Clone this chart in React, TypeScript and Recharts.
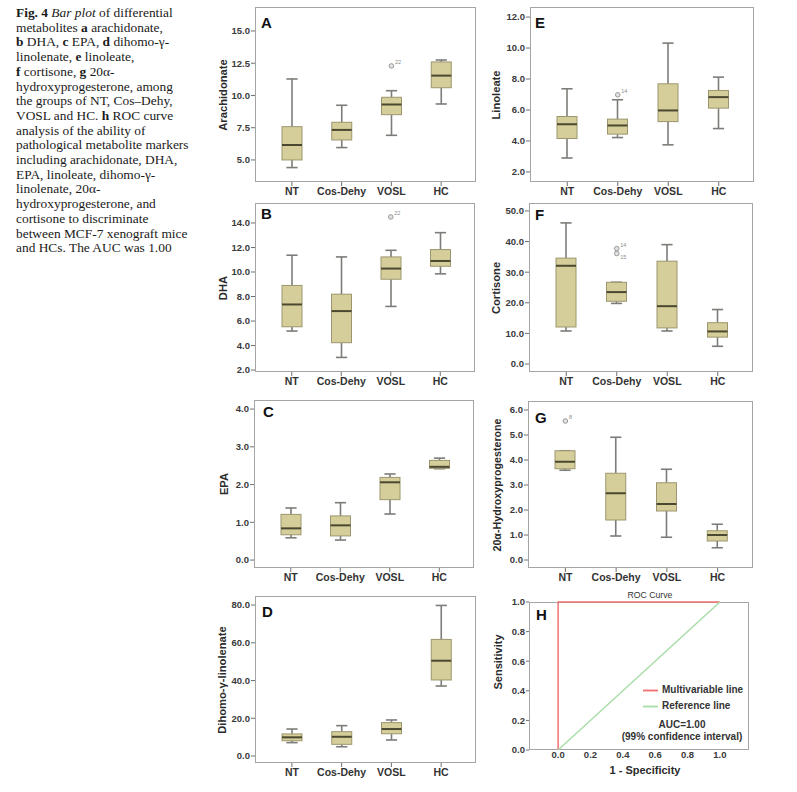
import React from 'react';
import { ComposedChart, Bar, Line, XAxis, YAxis, Legend } from 'recharts';

const groups = ['NT', 'Cos-Dehy', 'VOSL', 'HC'];

// min, q1, median, q3, max  (NT, Cos-Dehy, VOSL, HC)
const arachidonate = [
  [4.41, 5.0, 6.16, 7.58, 11.28],
  [5.96, 6.55, 7.33, 7.92, 9.24],
  [6.91, 8.51, 9.3, 9.86, 10.37],
  [9.34, 10.6, 11.54, 12.6, 12.75],
];
const dha = [
  [5.18, 5.53, 7.35, 8.9, 11.37],
  [3.03, 4.23, 6.81, 8.19, 11.23],
  [7.19, 9.41, 10.28, 11.23, 11.77],
  [9.85, 10.47, 10.9, 11.83, 13.21],
];
const epa = [
  [0.59, 0.67, 0.84, 1.21, 1.38],
  [0.53, 0.64, 0.92, 1.17, 1.52],
  [1.22, 1.6, 2.06, 2.19, 2.28],
  [2.42, 2.43, 2.47, 2.64, 2.7],
];
const dihomo = [
  [7.1, 8.1, 9.9, 11.7, 14.3],
  [4.9, 6.2, 10.2, 12.9, 16.1],
  [8.5, 11.8, 14.3, 17.7, 19.1],
  [37.1, 40.3, 50.5, 61.8, 79.8],
];
const linoleate = [
  [2.9, 4.16, 5.08, 5.58, 7.37],
  [4.22, 4.44, 5.0, 5.41, 6.66],
  [3.75, 5.25, 5.97, 7.69, 10.32],
  [4.8, 6.12, 6.83, 7.26, 8.12],
];
const cortisone = [
  [10.8, 12.1, 32.1, 34.6, 46.1],
  [19.8, 20.5, 23.5, 26.7, 26.7],
  [10.8, 11.8, 18.9, 33.6, 39.0],
  [5.8, 8.8, 10.65, 13.5, 17.8],
];
const hydroxyprog = [
  [3.59, 3.65, 3.93, 4.37, 4.37],
  [0.96, 1.6, 2.67, 3.47, 4.91],
  [0.91, 1.96, 2.24, 3.09, 3.63],
  [0.49, 0.76, 1.0, 1.17, 1.43],
];

type Outlier = { group: string; value: number; label: string };
const arachidonateOut: Outlier[] = [{ group: 'VOSL', value: 12.29, label: '22' }];
const dhaOut: Outlier[] = [{ group: 'VOSL', value: 14.49, label: '22' }];
const linoleateOut: Outlier[] = [{ group: 'Cos-Dehy', value: 6.98, label: '14' }];
const cortisoneOut: Outlier[] = [
  { group: 'Cos-Dehy', value: 37.7, label: '14' },
  { group: 'Cos-Dehy', value: 36.1, label: '15' },
];
const hydroxyprogOut: Outlier[] = [{ group: 'NT', value: 5.56, label: '8' }];

const arachidonateTicks = [5, 7.5, 10, 12.5, 15];
const dhaTicks = [2, 4, 6, 8, 10, 12, 14];
const epaTicks = [0, 1, 2, 3, 4];
const dihomoTicks = [0, 20, 40, 60, 80];
const linoleateTicks = [2, 4, 6, 8, 10, 12];
const cortisoneTicks = [0, 10, 20, 30, 40, 50];
const hydroxyprogTicks = [0, 1, 2, 3, 4, 5, 6];

const rocTicks = [0, 0.2, 0.4, 0.6, 0.8, 1.0];
const multivariableLine = [
  { x: 0, y: 0 },
  { x: 0, y: 1 },
  { x: 1, y: 1 },
];
const referenceLine = [
  { x: 0, y: 0 },
  { x: 1, y: 1 },
];

const SANS = '"Liberation Sans", Arial, Helvetica, sans-serif';
const YW = 40;
const MT = 8;
const MR = 2;
const XH = 24;

function buildRows(stats: number[][], outliers: Outlier[]) {
  return groups.map((g, i) => {
    const [min, q1, median, q3, max] = stats[i];
    const outs = outliers.filter((o) => o.group === g);
    return {
      group: g,
      min,
      q1,
      median,
      q3,
      max,
      out1: outs[0] ? outs[0].value : null,
      lab1: outs[0] ? outs[0].label : '',
      out2: outs[1] ? outs[1].value : null,
      lab2: outs[1] ? outs[1].label : '',
    };
  });
}

const BoxShape = (props: any) => {
  const { x, y, width, height, payload } = props;
  if (!payload) return null;
  const top = Math.min(y, y + height);
  const bot = Math.max(y, y + height);
  const { min, q1, median, q3, max } = payload;
  const k = (bot - top) / (max - min);
  const py = (v: number) => bot - (v - min) * k;
  const cx = x + width / 2;
  const cap = width * 0.28;
  const wh = { stroke: '#7c7c78', strokeWidth: 1.6 };
  return (
    <g>
      <line x1={cx} x2={cx} y1={py(max)} y2={py(q3)} {...wh} />
      <line x1={cx} x2={cx} y1={py(q1)} y2={py(min)} {...wh} />
      <line x1={cx - cap} x2={cx + cap} y1={py(max)} y2={py(max)} {...wh} />
      <line x1={cx - cap} x2={cx + cap} y1={py(min)} y2={py(min)} {...wh} />
      <rect x={x} y={py(q3)} width={width} height={py(q1) - py(q3)} fill="#d6ce9a" stroke="#9c966e" strokeWidth={1} />
      <line x1={x} x2={x + width} y1={py(median)} y2={py(median)} stroke="#4a4830" strokeWidth={2} />
    </g>
  );
};

const outlierDot = (labelKey: string, dy: number) => (p: any) => {
  const { cx, cy, payload, index, value } = p;
  if (value == null || cy == null || Number.isNaN(cy)) return <g key={`${labelKey}-${index}`} />;
  return (
    <g key={`${labelKey}-${index}`}>
      <circle cx={cx} cy={cy} r={2.3} fill="#e2e2e2" stroke="#9a9a9a" strokeWidth={1} />
      <text x={cx + 3.5} y={cy + dy} fontSize={5.5} fill="#8a8a8a" fontFamily={SANS}>
        {payload[labelKey]}
      </text>
    </g>
  );
};

type PanelProps = {
  letter: string;
  title: string;
  stats: number[][];
  outliers: Outlier[];
  domain: [number, number];
  ticks: number[];
  L: number;
  T: number;
  R: number;
  B: number;
  labelX: number;
  labelSize?: number;
  letterX: number;
  letterY: number;
};

function YTitle({ text, cx, cy, size }: { text: string; cx: number; cy: number; size: number }) {
  return (
    <div
      style={{
        position: 'absolute',
        left: cx,
        top: cy,
        transform: 'translate(-50%, -50%) rotate(-90deg)',
        whiteSpace: 'nowrap',
        fontFamily: SANS,
        fontWeight: 700,
        fontSize: size,
        color: '#2b2b2b',
        lineHeight: 1,
      }}
    >
      {text}
    </div>
  );
}

function Letter({ text, x, y }: { text: string; x: number; y: number }) {
  return (
    <div
      style={{
        position: 'absolute',
        left: x,
        top: y - 2,
        fontFamily: SANS,
        fontWeight: 700,
        fontSize: 15,
        lineHeight: 1,
        color: '#111',
      }}
    >
      {text}
    </div>
  );
}

function Frame({ L, T, R, B }: { L: number; T: number; R: number; B: number }) {
  return (
    <div
      style={{
        position: 'absolute',
        left: L,
        top: T,
        width: R - L,
        height: B - T,
        border: '1px solid #a5a5a5',
        boxSizing: 'border-box',
      }}
    />
  );
}

function BoxPanel(p: PanelProps) {
  const rows = buildRows(p.stats, p.outliers);
  const w = p.R - p.L;
  const h = p.B - p.T;
  const has1 = rows.some((r) => r.out1 != null);
  const has2 = rows.some((r) => r.out2 != null);
  return (
    <>
      <Frame L={p.L} T={p.T} R={p.R} B={p.B} />
      <div style={{ position: 'absolute', left: p.L - YW, top: p.T - MT, fontFamily: SANS }}>
        <ComposedChart width={w + YW + MR} height={h + MT + XH} data={rows} margin={{ top: MT, right: MR, bottom: 0, left: 0 }}>
          <XAxis
            dataKey="group"
            allowDuplicatedCategory={false}
            interval={0}
            padding={{ left: 12, right: 10 }}
            axisLine={false}
            tickLine={{ stroke: '#707070' }}
            tickSize={4}
            tickMargin={2}
            height={XH}
            tick={{ fontSize: 10.5, fontWeight: 700, fill: '#333' }}
          />
          <YAxis
            type="number"
            domain={p.domain}
            ticks={p.ticks}
            allowDataOverflow
            interval={0}
            width={YW}
            axisLine={false}
            tickLine={{ stroke: '#707070' }}
            tickSize={4}
            tickMargin={1}
            tick={{ fontSize: 9.5, fontWeight: 700, fill: '#3a3a3a' }}
            tickFormatter={(v: number) => v.toFixed(1)}
          />
          <Bar dataKey={(d: any) => [d.min, d.max]} barSize={20} shape={<BoxShape />} isAnimationActive={false} />
          {has1 && (
            <Line dataKey="out1" stroke="none" dot={outlierDot('lab1', -2)} activeDot={false} isAnimationActive={false} />
          )}
          {has2 && (
            <Line dataKey="out2" stroke="none" dot={outlierDot('lab2', 5)} activeDot={false} isAnimationActive={false} />
          )}
        </ComposedChart>
      </div>
      <YTitle text={p.title} cx={p.labelX} cy={(p.T + p.B) / 2} size={p.labelSize ?? 11.2} />
      <Letter text={p.letter} x={p.letterX} y={p.letterY} />
    </>
  );
}

function RocPanel() {
  const L = 529;
  const T = 602;
  const R = 749;
  const B = 750;
  const w = R - L;
  const h = B - T;
  return (
    <>
      <Frame L={L} T={T} R={R} B={B} />
      <div style={{ position: 'absolute', left: L - YW, top: T - MT, fontFamily: SANS }}>
        <ComposedChart width={w + YW + MR} height={h + MT + XH} margin={{ top: MT, right: MR, bottom: 0, left: 0 }}>
          <XAxis
            type="number"
            dataKey="x"
            domain={[-0.18, 1.18]}
            ticks={rocTicks}
            interval={0}
            axisLine={false}
            tickLine={false}
            tickSize={0}
            tickMargin={1}
            height={XH}
            tick={{ fontSize: 9.5, fontWeight: 700, fill: '#3a3a3a' }}
            tickFormatter={(v: number) => v.toFixed(1)}
          />
          <YAxis
            type="number"
            domain={[0, 1]}
            ticks={rocTicks}
            interval={0}
            width={YW}
            axisLine={false}
            tickLine={{ stroke: '#707070' }}
            tickSize={3}
            tickMargin={1}
            tick={{ fontSize: 9.5, fontWeight: 700, fill: '#3a3a3a' }}
            tickFormatter={(v: number) => v.toFixed(1)}
          />
          <Line
            data={multivariableLine}
            dataKey="y"
            name="Multivariable line"
            type="linear"
            stroke="#f07272"
            strokeWidth={1.5}
            dot={false}
            activeDot={false}
            isAnimationActive={false}
          />
          <Line
            data={referenceLine}
            dataKey="y"
            name="Reference line"
            type="linear"
            stroke="#a9dda9"
            strokeWidth={1.5}
            dot={false}
            activeDot={false}
            isAnimationActive={false}
          />
          <Legend
            layout="vertical"
            align="center"
            verticalAlign="middle"
            iconType="plainline"
            iconSize={15}
            wrapperStyle={{
              left: 154,
              top: 82 + (MT - 2),
              width: 120,
              whiteSpace: 'nowrap',
              fontSize: 10,
              fontWeight: 700,
              lineHeight: '15px',
            }}
            formatter={(v: any) => <span style={{ color: '#333' }}>{v}</span>}
          />
        </ComposedChart>
      </div>
      <div
        style={{
          position: 'absolute',
          left: 650,
          top: 595,
          transform: 'translate(-50%, -50%)',
          fontFamily: SANS,
          fontSize: 8.7,
          color: '#333',
          whiteSpace: 'nowrap',
        }}
      >
        ROC Curve
      </div>
      <div
        style={{
          position: 'absolute',
          left: 682,
          top: 731,
          transform: 'translate(-50%, -50%)',
          fontFamily: SANS,
          fontSize: 10,
          fontWeight: 700,
          color: '#333',
          textAlign: 'center',
          lineHeight: '12px',
          whiteSpace: 'nowrap',
        }}
      >
        <div>AUC=1.00</div>
        <div>(99% confidence interval)</div>
      </div>
      <div
        style={{
          position: 'absolute',
          left: 645,
          top: 770,
          transform: 'translate(-50%, -50%)',
          fontFamily: SANS,
          fontSize: 11,
          fontWeight: 700,
          color: '#2b2b2b',
          whiteSpace: 'nowrap',
        }}
      >
        1 - Specificity
      </div>
      <YTitle text="Sensitivity" cx={498} cy={662} size={11} />
      <Letter text="H" x={536} y={609} />
    </>
  );
}

const captionLines: React.ReactNode[] = [
  <>
    <b>Fig. 4</b> <i>Bar plot</i> of differential
  </>,
  <>
    metabolites <b>a</b> arachidonate,
  </>,
  <>
    <b>b</b> DHA, <b>c</b> EPA, <b>d</b> dihomo-γ-
  </>,
  <>
    linolenate, <b>e</b> linoleate,
  </>,
  <>
    <b>f</b> cortisone, <b>g</b> 20α-
  </>,
  <>hydroxyprogesterone, among</>,
  <>the groups of NT, Cos–Dehy,</>,
  <>
    VOSL and HC. <b>h</b> ROC curve
  </>,
  <>analysis of the ability of</>,
  <>pathological metabolite markers</>,
  <>including arachidonate, DHA,</>,
  <>EPA, linoleate, dihomo-γ-</>,
  <>linolenate, 20α-</>,
  <>hydroxyprogesterone, and</>,
  <>cortisone to discriminate</>,
  <>between MCF-7 xenograft mice</>,
  <>and HCs. The AUC was 1.00</>,
];

export default function App() {
  return (
    <div style={{ position: 'absolute', left: 0, top: 0, width: 797, height: 792, background: '#fff', overflow: 'hidden' }}>
      <div
        style={{
          position: 'absolute',
          left: 16,
          top: 6,
          fontFamily: '"Liberation Serif", "Times New Roman", serif',
          fontSize: 13.4,
          lineHeight: '14.7px',
          color: '#1a1a1a',
        }}
      >
        {captionLines.map((l, i) => (
          <div key={i} style={{ whiteSpace: 'nowrap' }}>
            {l}
          </div>
        ))}
      </div>

      <BoxPanel letter="A" title="Arachidonate" stats={arachidonate} outliers={arachidonateOut}
        domain={[3.29, 16.86]} ticks={arachidonateTicks} L={255} T={7} R={476} B={182}
        labelX={224} letterX={261} letterY={17} />
      <BoxPanel letter="E" title="Linoleate" stats={linoleate} outliers={linoleateOut}
        domain={[1.35, 12.65]} ticks={linoleateTicks} L={530} T={7} R={754} B={182}
        labelX={497} letterX={535} letterY={17} />
      <BoxPanel letter="B" title="DHA" stats={dha} outliers={dhaOut}
        domain={[1.84, 15.63]} ticks={dhaTicks} L={255} T={203} R={475} B={372}
        labelX={224} letterX={261} letterY={208} />
      <BoxPanel letter="F" title="Cortisone" stats={cortisone} outliers={cortisoneOut}
        domain={[-2.6, 52.6]} ticks={cortisoneTicks} L={529} T={203} R={753} B={372}
        labelX={497} letterX={535} letterY={209} />
      <BoxPanel letter="C" title="EPA" stats={epa} outliers={[]}
        domain={[-0.21, 4.24]} ticks={epaTicks} L={254} T={400} R={474} B={568}
        labelX={225} letterX={263} letterY={406} />
      <BoxPanel letter="G" title="20α-Hydroxyprogesterone" stats={hydroxyprog} outliers={hydroxyprogOut}
        domain={[-0.32, 6.36]} ticks={hydroxyprogTicks} L={528} T={401} R={753} B={568}
        labelX={497} labelSize={10.7} letterX={535} letterY={412} />
      <BoxPanel letter="D" title="Dihomo-γ-linolenate" stats={dihomo} outliers={[]}
        domain={[-3.7, 84.8]} ticks={dihomoTicks} L={255} T={596} R={476} B={763}
        labelX={223} letterX={262} letterY={606} />
      <RocPanel />
    </div>
  );
}
